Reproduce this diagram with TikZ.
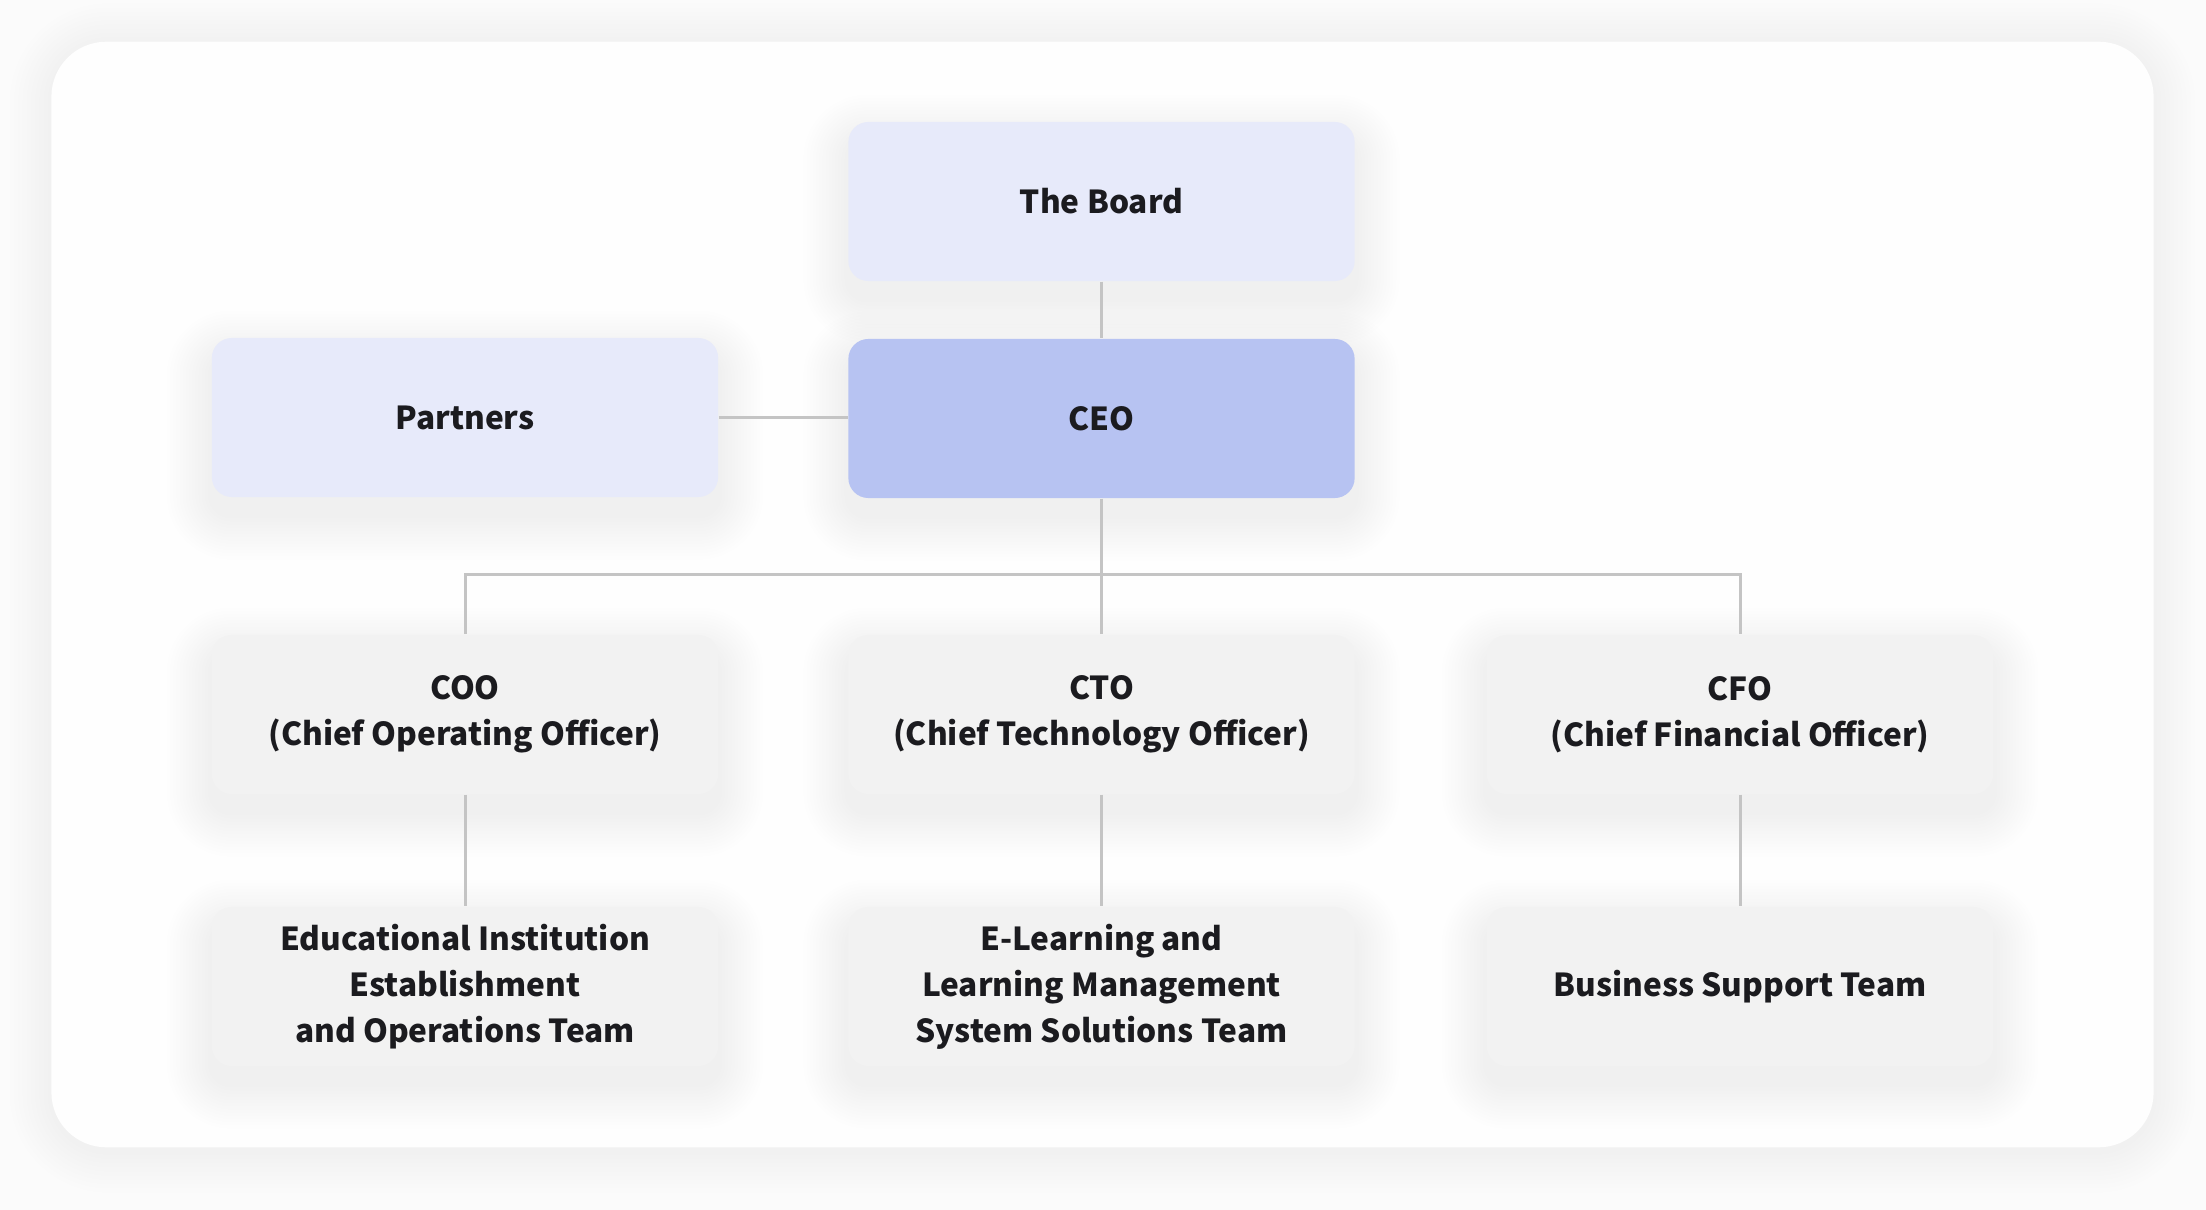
\documentclass[tikz,border=0pt]{standalone}
\usepackage{fontspec}
\setmainfont{Noto Sans CJK KR}
\usepackage{tikz}

\definecolor{pagebg}{HTML}{FBFBFB}
\definecolor{cardbg}{HTML}{FEFEFE}
\definecolor{lightblue}{HTML}{E7EAFA}
\definecolor{midblue}{HTML}{B7C3F2}
\definecolor{lightgray}{HTML}{F2F2F2}
\definecolor{linkgray}{HTML}{C4C4C4}
\definecolor{inkblack}{HTML}{1B1B1F}

\pgfdeclarelayer{back}
\pgfdeclarelayer{shade}
\pgfsetlayers{back,shade,main}

\begin{document}
\begin{tikzpicture}[x=0.01cm, y=-0.01cm,
    % box styles
    unit/.style={rounded corners=0.2cm, minimum width=5.06cm, minimum height=1.59cm,
        align=center, text=inkblack, inner sep=0pt,
        font=\fontsize{9}{13.1}\selectfont\bfseries},
    board/.style={unit, fill=lightblue},
    chief/.style={unit, fill=midblue},
    dept/.style={unit, fill=lightgray},
    card/.style={fill=cardbg, rounded corners=0.55cm, inner sep=0pt,
        minimum width=21.01cm, minimum height=11.05cm},
    softshade/.style={fill=black, fill opacity=#1},
    link/.style={draw=linkgray, line width=0.85pt}
]

    % ▼▼▼ page ▼▼▼
    \begin{pgfonlayer}{back}
        \fill[pagebg] (0,0) rectangle (2206,1210);
    \end{pgfonlayer}
    \useasboundingbox (0,0) rectangle (2206,1210);

    \coordinate (bus) at (0,575);

    % --- top ---
    \node[board] (theboard) at (1101.5,201.5) {The Board};
    \node[board] (partners) at (465,417.5) {Partners};
    \node[chief] (ceo)      at (1101.5,418.5) {CEO};

    % --- officers ---
    \node[dept] (coo) at (465,714.5)    {COO\\(Chief Operating Officer)};
    \node[dept] (cto) at (1101.5,714.5) {CTO\\(Chief Technology Officer)};
    \node[dept] (cfo) at (1740,714.5)   {CFO\\(Chief Financial Officer)};

    % --- teams ---
    \node[dept] (eduteam)   at (465,986.5)    {Educational Institution\\Establishment\\and Operations Team};
    \node[dept] (lmsteam)   at (1101.5,986.5) {E-Learning and\\Learning Management\\System Solutions Team};
    \node[dept] (bizteam)   at (1740,986.5)   {Business Support Team};

    % ▼▼▼ card and soft shadows ▼▼▼
    \begin{pgfonlayer}{back}
        \foreach \k in {1,...,10}
            \fill[softshade=0.004, rounded corners={16pt+\k*1.2pt}]
                ([xshift=-\k*1.2pt, yshift=-\k*1.2pt-1pt]52,1147) rectangle
                ([xshift=\k*1.2pt, yshift=\k*1.2pt-1pt]2153,42);
        \node[card] (panel) at (1102.5,594.5) {};
    \end{pgfonlayer}
    \begin{pgfonlayer}{shade}
        \foreach \n in {theboard,partners,ceo,coo,cto,cfo,eduteam,lmsteam,bizteam}
            \foreach \k in {1,...,14}
                \fill[softshade=0.0055, rounded corners={5.7pt+\k*0.9pt}]
                    ([xshift=-\k*0.9pt, yshift=-\k*0.9pt-5pt]\n.south west) rectangle
                    ([xshift=\k*0.9pt, yshift=\k*0.9pt-5pt]\n.north east);
    \end{pgfonlayer}

    % ▼▼▼ links ▼▼▼
    \draw[link] (theboard) -- (ceo);
    \draw[link] (partners) -- (partners -| ceo.west);
    \draw[link] (ceo) -- (ceo |- bus);
    \draw[link] (coo) |- (bus -| cfo) -- (cfo);
    \draw[link] (cto) -- (cto |- bus);

    \draw[link] (coo) -- (eduteam);
    \draw[link] (cto) -- (lmsteam);
    \draw[link] (cfo) -- (bizteam);

\end{tikzpicture}
\end{document}
